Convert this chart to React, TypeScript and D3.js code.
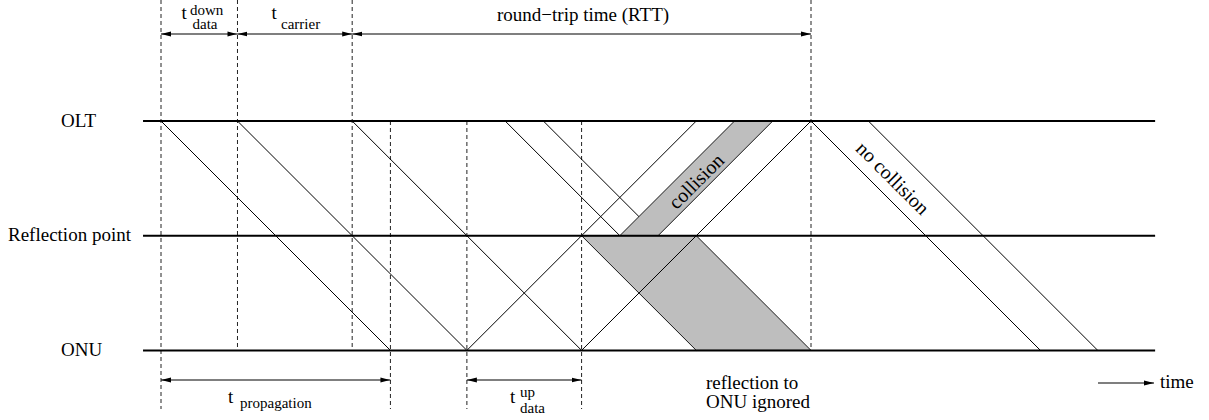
import React from "react";
import * as d3 from "d3";

const W = 1209;
const H = 420;

// Time unit: one-way propagation OLT -> ONU = 6 units, RTT = 12 units
const levelNames = ["OLT", "Reflection point", "ONU"];
const levelDist = [0, 3, 6];
const levelLabelX = [61, 8, 61];

// downstream / upstream signal edges: [t0, d0, t1, d1]
const downstreamLines = [
  [0, 0, 6, 6],
  [2, 0, 8, 6],
  [5, 0, 11, 6],
  [9, 0, 12, 3],
  [10, 0, 12.5, 2.5],
  [17, 0, 23, 6],
  [18.5, 0, 24.5, 6],
];
const upstreamLines = [
  [8, 6, 14, 0],
  [11, 6, 17, 0],
];
const collisionBand = [
  [12, 3],
  [13, 3],
  [16, 0],
  [15, 0],
];
const reflectionBand = [
  [11, 3],
  [14, 3],
  [17, 6],
  [14, 6],
];

// dashed time markers
const markerTimes = [0, 2, 5, 6, 8, 11, 17];
const markerTop = ["page", "page", "page", "OLT", "OLT", "OLT", "page"];
const markerBottom = ["below", "ONU", "ONU", "below", "below", "below", "ONU"];

// dimension arrows
const topSpans = [
  [0, 2],
  [2, 5],
  [5, 17],
];
const bottomSpans = [
  [0, 6],
  [8, 11],
];

const FONT = '"Liberation Serif", serif';

export default function App() {
  const x = d3.scaleLinear().domain([0, 17]).range([161, 811]);
  const y = d3.scaleLinear().domain([0, 6]).range([121, 350.4]);
  const axisStart = -0.47;
  const axisEnd = 26;

  const topY = (k: string) => (k === "page" ? 0 : y(0));
  const botY = (k: string) => (k === "ONU" ? y(6) : 409);

  const line = d3
    .line<number[]>()
    .x((d) => x(d[0]))
    .y((d) => y(d[1]));

  const topArrowY = 34;
  const bottomArrowY = 380;
  const ts = { fontFamily: FONT };

  return (
    <svg
      width={W}
      height={H}
      style={{ position: "absolute", left: 0, top: 0, background: "#fff", fontFamily: FONT }}
    >
      <defs>
        <marker
          id="ah"
          viewBox="0 0 10 6"
          refX={10}
          refY={3}
          markerWidth={10}
          markerHeight={6}
          markerUnits="userSpaceOnUse"
          orient="auto-start-reverse"
        >
          <path d="M0,0.6 L10,3 L0,5.4 Z" fill="#000" />
        </marker>
      </defs>

      {/* grey bands */}
      <path
        d={line(collisionBand as number[][])! + "Z"}
        fill="#bebebe"
        stroke="#000"
        strokeWidth={0.9}
      />
      <path
        d={line(reflectionBand as number[][])! + "Z"}
        fill="#bebebe"
        stroke="#000"
        strokeWidth={0.9}
      />

      {/* dashed markers */}
      {markerTimes.map((t, i) => (
        <line
          key={"m" + i}
          x1={x(t)}
          x2={x(t)}
          y1={topY(markerTop[i])}
          y2={botY(markerBottom[i])}
          stroke="#222"
          strokeWidth={1}
          strokeDasharray="4,3"
        />
      ))}

      {/* signal lines */}
      {downstreamLines.concat(upstreamLines).map((s, i) => (
        <line
          key={"s" + i}
          x1={x(s[0])}
          y1={y(s[1])}
          x2={x(s[2])}
          y2={y(s[3])}
          stroke="#000"
          strokeWidth={1}
        />
      ))}

      {/* level lines */}
      {levelDist.map((d, i) => (
        <g key={"l" + i}>
          <line
            x1={x(axisStart)}
            x2={x(axisEnd)}
            y1={y(d)}
            y2={y(d)}
            stroke="#000"
            strokeWidth={2}
          />
          <text x={levelLabelX[i]} y={y(d) + 5.5} fontSize={19} style={ts}>
            {levelNames[i]}
          </text>
        </g>
      ))}

      {/* dimension arrows */}
      {topSpans.map((s, i) => (
        <line
          key={"ta" + i}
          x1={x(s[0])}
          x2={x(s[1])}
          y1={topArrowY}
          y2={topArrowY}
          stroke="#000"
          strokeWidth={1.2}
          markerStart="url(#ah)"
          markerEnd="url(#ah)"
        />
      ))}
      {bottomSpans.map((s, i) => (
        <line
          key={"ba" + i}
          x1={x(s[0])}
          x2={x(s[1])}
          y1={bottomArrowY}
          y2={bottomArrowY}
          stroke="#000"
          strokeWidth={1.2}
          markerStart="url(#ah)"
          markerEnd="url(#ah)"
        />
      ))}

      {/* top labels */}
      <text x={181.5} y={18.5} fontSize={19} style={ts}>t</text>
      <text x={190} y={15} fontSize={15} style={ts}>down</text>
      <text x={192.5} y={29} fontSize={15} style={ts}>data</text>

      <text x={271.5} y={18.5} fontSize={19} style={ts}>t</text>
      <text x={281} y={29} fontSize={15} style={ts}>carrier</text>

      <text x={(x(5) + x(17)) / 2 + 1.5} y={21} fontSize={19} textAnchor="middle" style={ts}>
        round−trip time (RTT)
      </text>

      {/* bottom labels */}
      <text x={228} y={403} fontSize={19} style={ts}>t</text>
      <text x={240} y={408} fontSize={15} style={ts}>propagation</text>

      <text x={510} y={403} fontSize={19} style={ts}>t</text>
      <text x={520} y={396.5} fontSize={15} style={ts}>up</text>
      <text x={520} y={413} fontSize={15} style={ts}>data</text>

      <text x={706} y={389} fontSize={19} style={ts}>reflection to</text>
      <text x={706} y={408} fontSize={19} style={ts}>ONU ignored</text>

      {/* time arrow */}
      <line
        x1={1098}
        x2={1154}
        y1={383}
        y2={383}
        stroke="#000"
        strokeWidth={1.2}
        markerEnd="url(#ah)"
      />
      <text x={1160} y={388} fontSize={19} style={ts}>time</text>

      {/* band labels */}
      <text
        transform={`translate(696,181) rotate(-45)`}
        fontSize={20}
        textAnchor="middle"
        dominantBaseline="central"
        style={ts}
      >
        collision
      </text>
      <text
        transform={`translate(893,178) rotate(45)`}
        fontSize={20}
        textAnchor="middle"
        dominantBaseline="central"
        style={ts}
      >
        no collision
      </text>
    </svg>
  );
}
